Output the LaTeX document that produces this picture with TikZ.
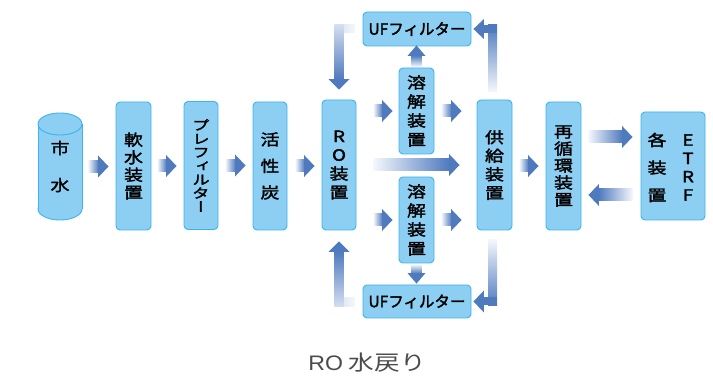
\documentclass[tikz,border=0pt]{standalone}
\usepackage{fontspec}
\setmainfont{Noto Sans CJK JP}
\newfontfamily\boxfont[FakeStretch=1.22, FakeBold=2]{Noto Sans CJK JP}
\newfontfamily\vertfont[RawFeature=+vert, FakeStretch=1.3, FakeBold=2]{Noto Sans CJK JP}
\newfontfamily\uffont[FakeBold=2]{Noto Sans CJK JP}
\newfontfamily\capfont[FakeStretch=1.22]{Noto Sans CJK JP}
\newfontfamily\caplatin[FakeStretch=1.1]{Liberation Sans}
\usetikzlibrary{calc}
\definecolor{boxfill}{RGB}{141,207,243}
\definecolor{boxline}{RGB}{60,180,236}
\definecolor{ablue}{RGB}{79,122,190}
\definecolor{alight}{RGB}{244,247,252}
\definecolor{captext}{RGB}{75,75,75}
% gradient fat arrows: #1 tail, #2 tip
\newcommand\garR[2]{%
  \coordinate (T) at #1; \coordinate (Hx) at #2; \coordinate (H) at (Hx|-T);
  \shade[left color=alight,right color=ablue] ($(T)+(0,-6)$) rectangle ($(H)+(-10,6)$);
  \fill[ablue] ($(H)+(-10.5,-11)$) -- (H) -- ($(H)+(-10.5,11)$) -- cycle;}
\newcommand\garL[2]{%
  \coordinate (T) at #1; \coordinate (Hx) at #2; \coordinate (H) at (Hx|-T);
  \shade[left color=ablue,right color=alight] ($(H)+(10,-6)$) rectangle ($(T)+(0,6)$);
  \fill[ablue] ($(H)+(10.5,-11)$) -- (H) -- ($(H)+(10.5,11)$) -- cycle;}
\newcommand\garU[2]{%
  \coordinate (T) at #1; \coordinate (Hx) at #2; \coordinate (H) at (T|-Hx);
  \shade[top color=ablue,bottom color=alight] ($(H)+(-5,10)$) rectangle ($(T)+(5,0)$);
  \fill[ablue] ($(H)+(-9,10.5)$) -- (H) -- ($(H)+(9,10.5)$) -- cycle;}
\newcommand\garD[2]{%
  \coordinate (T) at #1; \coordinate (Hx) at #2; \coordinate (H) at (T|-Hx);
  \shade[top color=alight,bottom color=ablue] ($(T)+(-5,0)$) rectangle ($(H)+(5,-10)$);
  \fill[ablue] ($(H)+(-9,-10.5)$) -- (H) -- ($(H)+(9,-10.5)$) -- cycle;}
\tikzset{
  box/.style={draw=boxline, fill=boxfill, line width=0.9pt, rounded corners=4pt,
    inner sep=0pt, align=center, text=black},
  vtext/.style 2 args={font=\boxfont\fontsize{#1}{#2}\selectfont},
}
\begin{document}
\begin{tikzpicture}[x=1pt,y=-1pt]
\useasboundingbox (0,0) rectangle (713,379);

% cylinder
\filldraw[fill=boxfill, draw=boxline, line width=0.9pt] (60,209) ellipse [x radius=22pt, y radius=11pt];
\fill[boxfill] (38,124) rectangle (82,209);
\draw[boxline, line width=0.9pt] (38,124) -- (38,209) (82,124) -- (82,209);
\filldraw[fill=boxfill, draw=boxline, line width=0.9pt] (60,124) ellipse [x radius=22pt, y radius=11pt];
\node[minimum width=44pt, minimum height=107pt, inner sep=0pt, align=center,
  vtext={15.5}{37}] (city) at (60,166.5) {市\\水};

\node[box, minimum width=35pt, minimum height=128pt, vtext={15.5}{17.5}] (soft) at (133.5,166) {軟\\水\\装\\置};
\node[box, minimum width=34pt, minimum height=128pt, font=\vertfont\fontsize{13.5}{13.6}\selectfont] (pre) at (201,165.5) {プ\\レ\\フ\\ィ\\ル\\タ\\ー};
\node[box, minimum width=34pt, minimum height=128pt, vtext={15.5}{26.5}] (carbon) at (270,166) {活\\性\\炭};
\node[box, minimum width=34pt, minimum height=130pt, vtext={15.5}{18.7}] (ro) at (339,165) {R\\O\\装\\置};
\node[box, minimum width=35pt, minimum height=86pt, vtext={15.5}{19}] (dtop) at (416.5,111) {溶\\解\\装\\置};
\node[box, minimum width=35pt, minimum height=86pt, vtext={15.5}{19}] (dbot) at (416.5,220) {溶\\解\\装\\置};
\node[box, minimum width=108pt, minimum height=34pt, font=\uffont\fontsize{15.5}{18}\selectfont] (uftop) at (417,29) {UFフィルター};
\node[box, minimum width=108pt, minimum height=33pt, font=\uffont\fontsize{15.5}{18}\selectfont] (ufbot) at (417,301.5) {UFフィルター};
\node[box, minimum width=35pt, minimum height=130pt, vtext={15.5}{18.5}] (supply) at (494.5,165) {供\\給\\装\\置};
\node[box, minimum width=35pt, minimum height=128pt, vtext={15.5}{17}] (recirc) at (563.5,166) {再\\循\\環\\装\\置};
\node[box, minimum width=64pt, minimum height=108pt] (etrf) at (673,166) {};
\node[inner sep=0pt, align=center, vtext={15.5}{27.5}] (etrfa) at (657,167.5) {各\\装\\置};
\node[inner sep=0pt, align=center, vtext={15.5}{18.3}] (etrfb) at (688,167.5) {E\\T\\R\\F};

\node[font=\capfont\fontsize{21}{24}\selectfont, text=captext, inner sep=0pt] (cap) at (367,363) {{\caplatin RO} 水戻り};

% straight arrows
\garR{($(city.east)+(6,0)$)}{($(soft.west)+(-7,0)$)}
\garR{($(soft.east)+(6,0)$)}{($(pre.west)+(-7,0)$)}
\garR{($(pre.east)+(7,0)$)}{($(carbon.west)+(-7,0)$)}
\garR{($(carbon.east)+(8,0)$)}{($(ro.west)+(-7,0)$)}
\garR{($(ro.east|-dtop.center)+(17,0)$)}{($(dtop.west)+(-6,0)$)}
\garR{($(dtop.east)+(7,0)$)}{($(supply.west|-dtop.center)+(-15,0)$)}
\garR{($(ro.east)+(17,0)$)}{($(supply.west)+(-17,0)$)}
\garR{($(ro.east|-dbot.center)+(17,0)$)}{($(dbot.west)+(-6,0)$)}
\garR{($(dbot.east)+(7,0)$)}{($(supply.west|-dbot.center)+(-15,0)$)}
\garR{($(supply.east)+(7,1)$)}{($(recirc.west)+(-7,0)$)}
\garR{($(recirc.east|-0,137)+(7,0)$)}{($(etrf.west)+(-8,0)$)}
\garL{($(etrf.west|-0,195)+(-8,0)$)}{($(recirc.east)+(7,0)$)}
\garU{($(dtop.north)+(0,-1)$)}{($(uftop.south)+(0,-1)$)}
\garD{($(dbot.south)+(0,1)$)}{($(ufbot.north)+(0,-1)$)}

% elbow: UF top -> RO
\coordinate (e1t) at ($(uftop.west)+(-8,0)$);
\coordinate (e1h) at ($(ro.north)+(0,-10)$);
\coordinate (e1c) at (e1h|-e1t);
\shade[left color=alight!80!ablue, right color=alight] ($(e1c)+(-4.5,-4)$) rectangle ($(e1t)+(0,4)$);
\shade[top color=alight!80!ablue, bottom color=ablue] ($(e1c)+(-4.5,-4)$) rectangle ($(e1h)+(4.5,-10)$);
\fill[ablue] ($(e1h)+(-10.5,-10.5)$) -- (e1h) -- ($(e1h)+(10.5,-10.5)$) -- cycle;

% elbow: supply -> UF top
\coordinate (e2t) at ($(supply.north)+(-2,-8)$);
\coordinate (e2h) at ($(uftop.east)+(2,0)$);
\coordinate (e2c) at (e2t|-e2h);
\shade[top color=ablue, bottom color=alight] ($(e2c)+(-4.5,-4)$) rectangle ($(e2t)+(4.5,0)$);
\fill[ablue] ($(e2h)+(10,-4)$) rectangle ($(e2c)+(4.5,4)$);
\fill[ablue] ($(e2h)+(10.5,-10)$) -- (e2h) -- ($(e2h)+(10.5,10)$) -- cycle;

% elbow: UF bottom -> RO
\coordinate (e3t) at ($(ufbot.west)+(-8,0.5)$);
\coordinate (e3h) at ($(ro.south)+(0,11)$);
\coordinate (e3c) at (e3h|-e3t);
\shade[left color=alight!80!ablue, right color=alight] ($(e3c)+(-4.5,-4.5)$) rectangle ($(e3t)+(0,4.5)$);
\shade[top color=ablue, bottom color=alight!80!ablue] ($(e3h)+(-4.5,10)$) rectangle ($(e3c)+(4.5,4.5)$);
\fill[ablue] ($(e3h)+(-10.5,10.5)$) -- (e3h) -- ($(e3h)+(10.5,10.5)$) -- cycle;

% elbow: supply -> UF bottom
\coordinate (e4t) at ($(supply.south)+(-2,9)$);
\coordinate (e4h) at ($(ufbot.east)+(2,0)$);
\coordinate (e4c) at (e4t|-e4h);
\shade[top color=alight, bottom color=ablue] ($(e4t)+(-4.5,0)$) rectangle ($(e4c)+(4.5,4)$);
\fill[ablue] ($(e4h)+(10,-4)$) rectangle ($(e4c)+(4.5,4)$);
\fill[ablue] ($(e4h)+(10.5,-11)$) -- (e4h) -- ($(e4h)+(10.5,11)$) -- cycle;
\end{tikzpicture}
\end{document}
